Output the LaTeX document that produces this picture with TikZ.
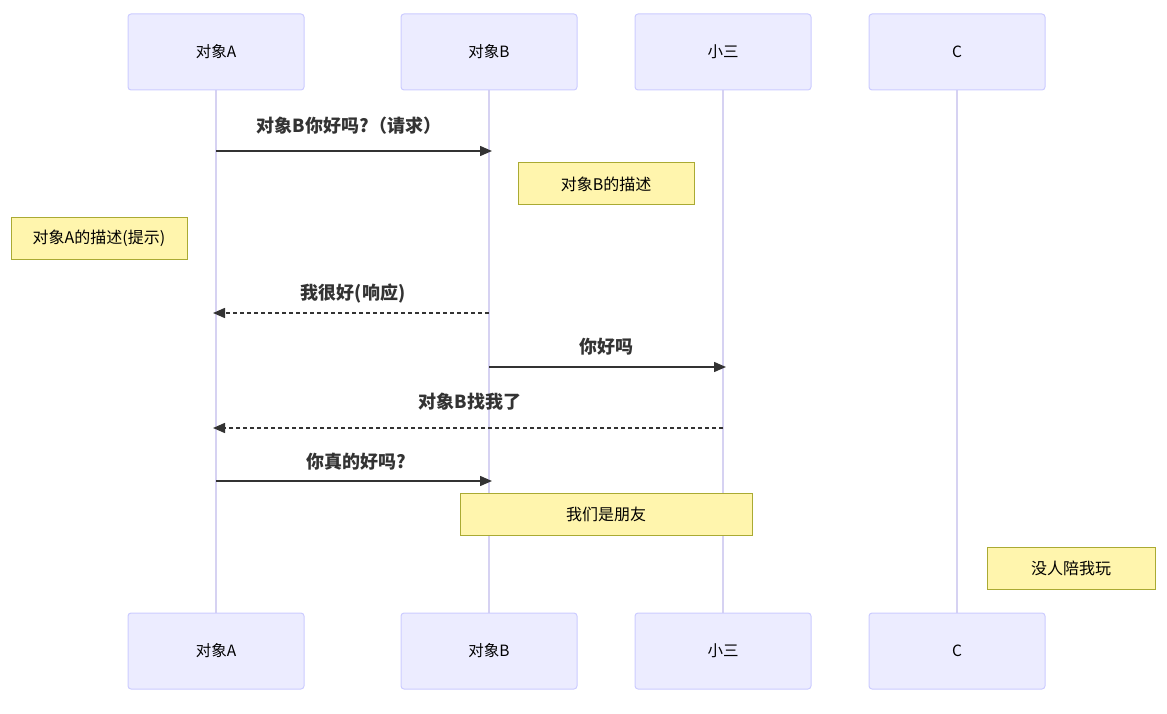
\documentclass[tikz,border=0pt]{standalone}
\usepackage{fontspec}
\newfontfamily\cjk{Noto Sans CJK SC}
\usetikzlibrary{arrows.meta}

\definecolor{actorfill}{HTML}{ECECFF}
\definecolor{actorline}{HTML}{CCCCFF}
\definecolor{lifeline}{HTML}{D6D2F2}
\definecolor{notefill}{HTML}{FFF5AD}
\definecolor{noteline}{HTML}{AAAA33}
\definecolor{msgcol}{HTML}{333333}

\tikzset{
  actor/.style={draw=actorline, fill=actorfill, rounded corners=3pt, line width=1pt,
    minimum width=176pt, minimum height=76pt, inner sep=0pt,
    font=\cjk\fontsize{15.5}{17}\selectfont},
  note/.style={draw=noteline, fill=notefill, line width=1pt,
    minimum height=42pt, inner sep=0pt, font=\cjk\fontsize{16}{18}\selectfont},
  msg/.style={draw=msgcol, line width=1.5pt, shorten >=-3pt,
    -{Triangle[length=12pt,width=10pt]}},
  reply/.style={msg, dash pattern=on 4pt off 3pt},
  msglabel/.style={text=msgcol, font=\cjk\bfseries\fontsize{18}{20}\selectfont}
}

\begin{document}
\begin{tikzpicture}[x=1pt, y=-1pt]
    \useasboundingbox (0,0) rectangle (1167,714);

    % lifelines
    \foreach \nm/\xx in {A/216, B/489, S/723, C/957} {
      \coordinate (top\nm) at (\xx,90);
      \coordinate (bot\nm) at (\xx,613);
      \draw[lifeline, line width=2pt] (top\nm) -- (bot\nm);
    }

    % actors, top and bottom
    \foreach \nm/\xx/\txt in {A/216/对象A, B/489/对象B, S/723/小三, C/957/C} {
      \node[actor] (head\nm) at (\xx,52) {\txt};
      \node[actor] (foot\nm) at (\xx,651) {\txt};
    }

    % notes
    \node[note, minimum width=176pt] (noteB) at (606,184) {对象B的描述};
    \node[note, minimum width=176pt] (noteA) at (99,238.5) {对象A的描述(提示)};
    \node[note, minimum width=292pt] (noteBS) at (606,514) {我们是朋友};
    \node[note, minimum width=168pt] (noteC) at (1071,568) {没人陪我玩};

    % messages
    \coordinate (m1a) at (216,151); \coordinate (m1b) at (489,151);
    \draw[msg] (m1a) -- (m1b);
    \node[msglabel] (l1) at (349,126) {对象B你好吗?（请求）};

    \coordinate (m2b) at (489,313); \coordinate (m2a) at (216,313);
    \draw[reply] (m2b) -- (m2a);
    \node[msglabel] (l2) at (353,294) {我很好(响应)};

    \coordinate (m3b) at (489,367); \coordinate (m3s) at (723,367);
    \draw[msg] (m3b) -- (m3s);
    \node[msglabel] (l3) at (606,347) {你好吗};

    \coordinate (m4s) at (723,428); \coordinate (m4a) at (216,428);
    \draw[reply] (m4s) -- (m4a);
    \node[msglabel] (l4) at (470,402) {对象B找我了};

    \coordinate (m5a) at (216,481); \coordinate (m5b) at (489,481);
    \draw[msg] (m5a) -- (m5b);
    \node[msglabel] (l5) at (356,462) {你真的好吗?};
\end{tikzpicture}
\end{document}
